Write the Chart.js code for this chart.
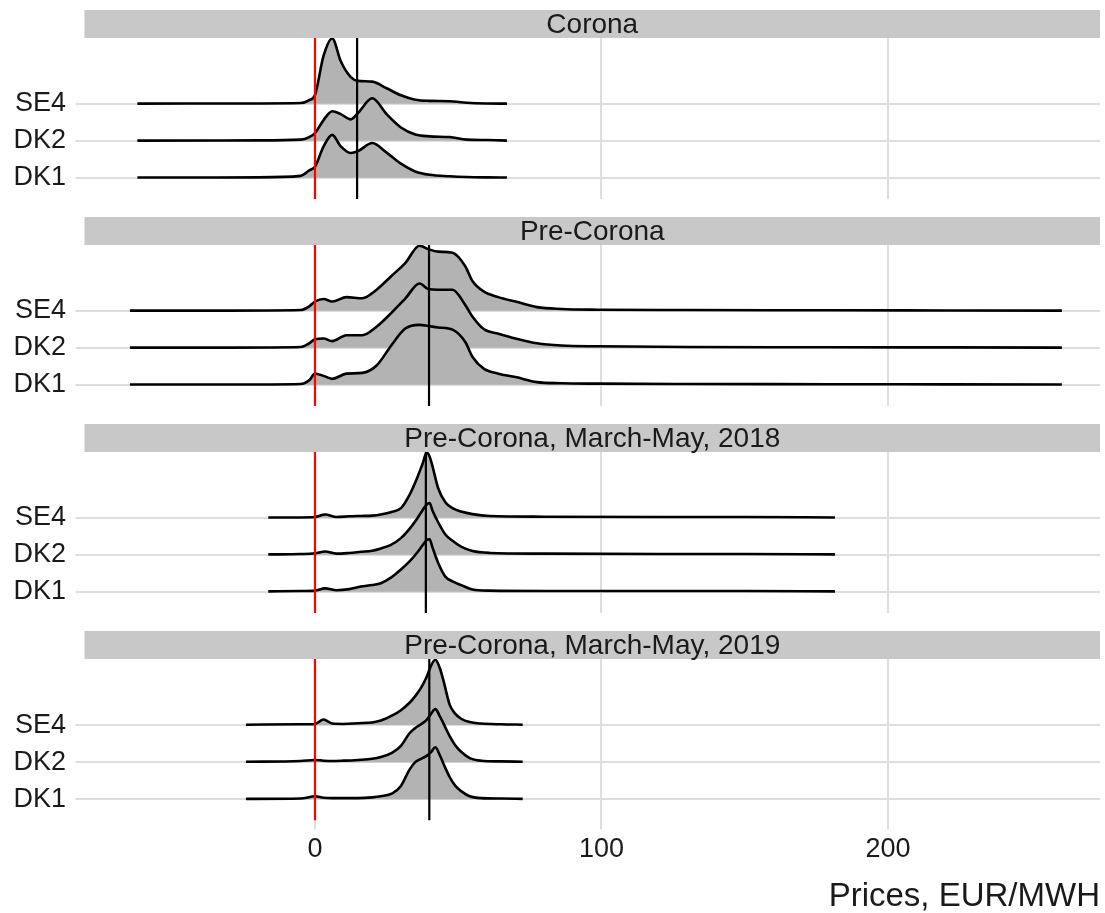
<!DOCTYPE html>
<html lang="en">
<head>
  <meta charset="UTF-8">
  <title>Price densities by bidding zone</title>
  <script src="https://cdn.jsdelivr.net/npm/chart.js"></script>
  <style>
    body { margin: 0; background: #fff; }
    #wrap { position: relative; width: 1105px; height: 913px; overflow: hidden; }
    #wrap canvas { position: absolute; left: 0; }
  </style>
</head>
<body>
  <div id="wrap"></div>
  <script>
    // categories, bottom to top
    const zones = ['DK1', 'DK2', 'SE4'];
    const facetTitles = ['Corona', 'Pre-Corona', 'Pre-Corona, March-May, 2018', 'Pre-Corona, March-May, 2019'];
    const xTicks = [0, 100, 200];
    const refPrice = 0;                       // red line
    const medians = [14.7, 39.8, 38.7, 39.9]; // black line per facet

    // density heights are in row units (1 = distance between two ridges)
    const coronaPrices = [-62, -20, -5, -2, 0, 3, 6, 9, 12.5, 15, 20, 25, 30, 35, 40, 47, 53, 60, 67];
    const coronaDK1 = [0.005, 0.01, 0.05, 0.2, 0.3, 0.85, 1.16, 0.85, 0.67, 0.72, 0.94, 0.68, 0.38, 0.17, 0.08, 0.04, 0.02, 0.01, 0.005];
    const coronaDK2 = [0.005, 0.01, 0.03, 0.1, 0.21, 0.56, 0.8, 0.72, 0.58, 0.75, 1.15, 0.72, 0.36, 0.17, 0.12, 0.1, 0.03, 0.02, 0.005];
    const coronaSE4 = [0.005, 0.01, 0.02, 0.1, 0.24, 1.3, 1.77, 1.15, 0.72, 0.62, 0.6, 0.42, 0.23, 0.11, 0.08, 0.07, 0.03, 0.01, 0.005];

    const preCoronaPrices = [-64.6, -30, -5, -2, 0, 3, 6, 11, 16.5, 21.5, 26.5, 31.5, 36.5, 39.5, 43, 48, 52.5, 55, 59, 64, 70, 77.5, 86, 99, 130, 180, 220, 260.7];
    const preCoronaDK1 = [0.005, 0.005, 0.02, 0.12, 0.3, 0.24, 0.16, 0.3, 0.32, 0.52, 1.05, 1.52, 1.62, 1.59, 1.55, 1.49, 1.15, 0.75, 0.43, 0.3, 0.21, 0.07, 0.04, 0.03, 0.02, 0.015, 0.01, 0.005];
    const preCoronaDK2 = [0.005, 0.005, 0.02, 0.12, 0.23, 0.25, 0.18, 0.34, 0.34, 0.57, 0.93, 1.33, 1.74, 1.59, 1.57, 1.57, 1.15, 0.84, 0.5, 0.38, 0.25, 0.12, 0.06, 0.04, 0.02, 0.015, 0.01, 0.005];
    const preCoronaSE4 = [0.005, 0.005, 0.02, 0.12, 0.25, 0.32, 0.25, 0.37, 0.34, 0.57, 0.93, 1.29, 1.76, 1.67, 1.6, 1.57, 1.2, 0.8, 0.52, 0.37, 0.25, 0.1, 0.05, 0.03, 0.02, 0.015, 0.01, 0.005];

    const spring18Prices = [-16.3, -5, 0, 3.5, 7.5, 12, 16, 20, 23, 26.5, 30, 33, 35.5, 37.5, 39, 40, 41, 43, 45.5, 48, 51, 55, 61, 80, 120, 150, 181.5];
    const spring18DK1 = [0.01, 0.02, 0.03, 0.09, 0.04, 0.07, 0.14, 0.18, 0.23, 0.38, 0.6, 0.82, 1.04, 1.25, 1.4, 1.42, 1.2, 0.78, 0.41, 0.28, 0.18, 0.06, 0.03, 0.02, 0.02, 0.02, 0.01];
    const spring18DK2 = [0.01, 0.02, 0.04, 0.09, 0.03, 0.05, 0.08, 0.11, 0.17, 0.27, 0.45, 0.7, 0.96, 1.2, 1.36, 1.4, 1.2, 0.88, 0.55, 0.38, 0.22, 0.1, 0.05, 0.03, 0.02, 0.02, 0.01];
    const spring18SE4 = [0.01, 0.01, 0.02, 0.09, 0.02, 0.04, 0.05, 0.06, 0.09, 0.15, 0.26, 0.62, 1.05, 1.45, 1.76, 1.66, 1.4, 0.8, 0.42, 0.26, 0.17, 0.1, 0.05, 0.03, 0.02, 0.02, 0.01];

    const spring19Prices = [-24.1, -5, 0, 3, 6, 10, 15, 20, 23, 27, 30, 33, 35, 37, 39, 40.5, 42, 43.5, 45, 47, 49, 51, 54, 58, 65, 72.5];
    const spring19DK1 = [0.01, 0.02, 0.08, 0.04, 0.03, 0.03, 0.03, 0.05, 0.08, 0.16, 0.36, 0.8, 1.0, 1.09, 1.17, 1.27, 1.4, 1.2, 0.93, 0.6, 0.36, 0.22, 0.08, 0.03, 0.02, 0.01];
    const spring19DK2 = [0.01, 0.03, 0.06, 0.04, 0.03, 0.04, 0.06, 0.09, 0.14, 0.26, 0.44, 0.78, 0.92, 1.02, 1.14, 1.3, 1.43, 1.25, 1.02, 0.7, 0.45, 0.28, 0.11, 0.04, 0.02, 0.01];
    const spring19SE4 = [0.01, 0.02, 0.03, 0.15, 0.04, 0.03, 0.05, 0.07, 0.12, 0.26, 0.4, 0.6, 0.78, 1.0, 1.3, 1.6, 1.76, 1.55, 1.15, 0.55, 0.3, 0.17, 0.08, 0.04, 0.02, 0.01];

    const facetPrices = [coronaPrices, preCoronaPrices, spring18Prices, spring19Prices];
    const facetDensities = [
      [coronaDK1, coronaDK2, coronaSE4],
      [preCoronaDK1, preCoronaDK2, preCoronaSE4],
      [spring18DK1, spring18DK2, spring18SE4],
      [spring19DK1, spring19DK2, spring19SE4]
    ];

    // layout
    const STRIP_TOPS = [10, 217, 424, 631];
    const STRIP_H = 28;
    const PANEL_H = 161;
    const X_MIN = -80.45, X_MAX = 274;
    const Y_MIN = 0.425, Y_MAX = 4.78;
    const FONT = '"Liberation Sans", Arial, sans-serif';
    const GRID = '#dedede';

    const stripPlugin = {
      id: 'strip',
      afterDraw(chart, args, opts) {
        const { ctx, chartArea } = chart;
        ctx.save();
        ctx.fillStyle = '#c8c8c8';
        ctx.fillRect(chartArea.left, chartArea.top - STRIP_H, chartArea.right - chartArea.left, STRIP_H);
        ctx.fillStyle = '#1a1a1a';
        ctx.font = '28px ' + FONT;
        ctx.textAlign = 'center';
        ctx.textBaseline = 'middle';
        ctx.fillText(opts.text, (chartArea.left + chartArea.right) / 2, chartArea.top - STRIP_H / 2 + 1);
        ctx.restore();
      }
    };

    const wrap = document.getElementById('wrap');

    facetTitles.forEach((title, f) => {
      const last = f === facetTitles.length - 1;
      const canvas = document.createElement('canvas');
      const h = last ? 913 - STRIP_TOPS[f] : STRIP_H + PANEL_H;
      canvas.width = 1105;
      canvas.height = h;
      canvas.style.top = STRIP_TOPS[f] + 'px';
      canvas.style.width = '1105px';
      canvas.style.height = h + 'px';
      wrap.appendChild(canvas);

      const prices = facetPrices[f];
      const datasets = [];
      // higher order is drawn first: SE4 at the back, DK1 in front
      zones.forEach((zone, k) => {
        const dens = facetDensities[f][k];
        datasets.push({
          label: zone,
          data: prices.map((p, j) => ({ x: p, y: k + 1 + dens[j] })),
          borderColor: '#000',
          borderWidth: 2.6,
          backgroundColor: '#b3b3b3',
          fill: { value: k + 1 },
          pointRadius: 0,
          cubicInterpolationMode: 'monotone',
          order: 2 + k
        });
      });
      datasets.push({
        label: 'zero',
        data: [{ x: refPrice, y: Y_MIN }, { x: refPrice, y: Y_MAX }],
        borderColor: '#ff0000',
        borderWidth: 2.2,
        pointRadius: 0,
        fill: false,
        tension: 0,
        order: 1
      });
      datasets.push({
        label: 'median',
        data: [{ x: medians[f], y: Y_MIN }, { x: medians[f], y: Y_MAX }],
        borderColor: '#000',
        borderWidth: 2.2,
        pointRadius: 0,
        fill: false,
        tension: 0,
        order: 0
      });

      new Chart(canvas, {
        type: 'line',
        data: { datasets },
        options: {
          responsive: false,
          animation: false,
          layout: { padding: { top: STRIP_H, right: 5, left: 0, bottom: 0 } },
          plugins: {
            legend: { display: false },
            tooltip: { enabled: false },
            strip: { text: title }
          },
          scales: {
            x: {
              type: 'linear',
              min: X_MIN,
              max: X_MAX,
              afterBuildTicks: s => { s.ticks = xTicks.map(v => ({ value: v })); },
              afterFit: s => { s.paddingLeft = 0; s.paddingRight = 0; },
              border: { display: false },
              grid: { color: GRID, lineWidth: 2, drawTicks: last, tickLength: 9 },
              ticks: { display: last, color: '#1a1a1a', padding: 4, font: { family: FONT, size: 27 } },
              title: {
                display: last,
                text: 'Prices, EUR/MWH',
                align: 'end',
                color: '#1a1a1a',
                padding: { top: 10, bottom: 0 },
                font: { family: FONT, size: 33, lineHeight: 1 }
              }
            },
            y: {
              min: Y_MIN,
              max: Y_MAX,
              afterBuildTicks: s => { s.ticks = zones.map((z, k) => ({ value: k + 1 })); },
              afterFit: s => { s.width = 84.5; s.paddingTop = 0; s.paddingBottom = 0; },
              border: { display: false },
              grid: { color: GRID, lineWidth: 2, tickLength: 9 },
              ticks: {
                callback: v => zones[v - 1],
                color: '#1a1a1a',
                padding: 9.5,
                font: { family: FONT, size: 27 }
              }
            }
          }
        },
        plugins: [stripPlugin]
      });
    });
  </script>
</body>
</html>
